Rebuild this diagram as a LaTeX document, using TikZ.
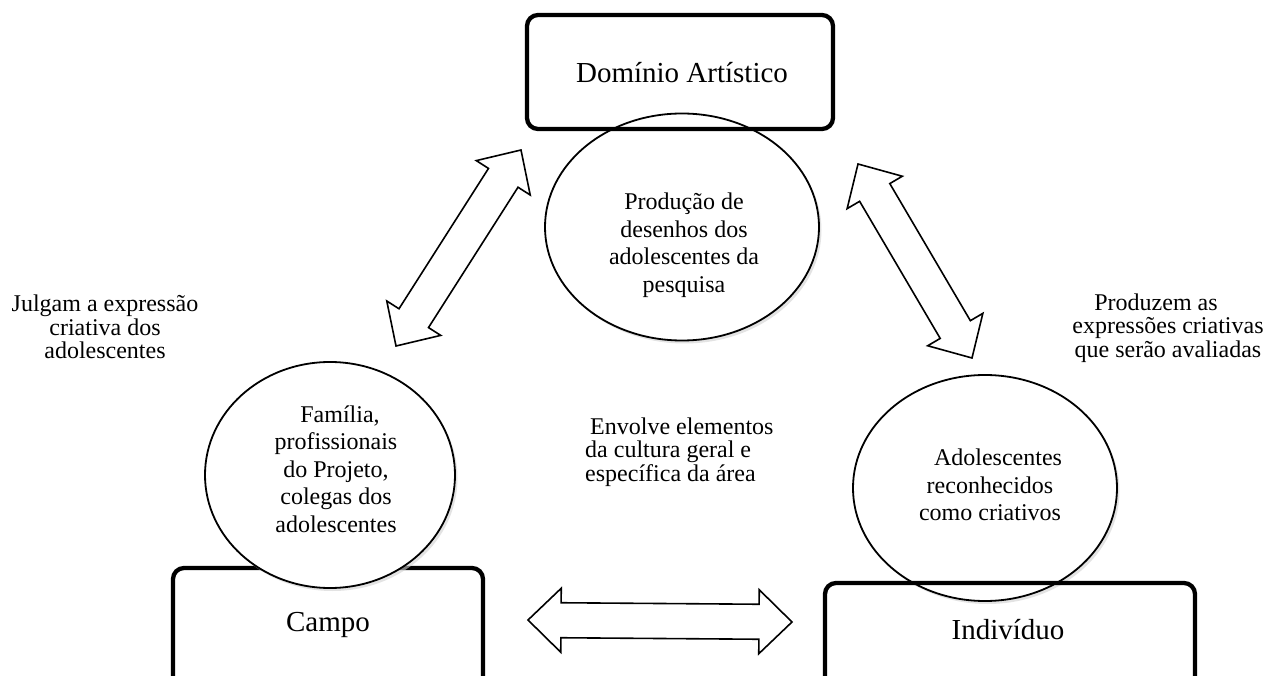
\documentclass[tikz,border=0pt]{standalone}
\usepackage{fontspec}
\setmainfont{Liberation Serif}
\usetikzlibrary{calc,shadows,shapes.geometric}
\tikzset{
  boxst/.style={draw, line width=4.3pt, rounded corners=11pt, minimum width=#1, inner sep=0pt},
  ellst/.style={ellipse, draw, line width=1.8pt, inner sep=0pt},
  ellfill/.style={fill=white, drop shadow={shadow xshift=2.5pt, shadow yshift=-3pt, fill=black!18, opacity=0.6}},
  bigtxt/.style={font=\fontsize{29}{33}\selectfont, inner sep=0pt},
  eltxt/.style={font=\fontsize{24}{27.5}\selectfont, align=center, inner sep=0pt},
  sidetxt/.style={font=\fontsize{24}{23.5}\selectfont, inner sep=0pt},
  arrst/.style={draw, line width=1.6pt, line join=miter, fill=white}
}
\newcommand{\dblarrow}[2]{%
  \coordinate (#1h) at ($(#1)!33pt!(#2)$);
  \coordinate (#2h) at ($(#2)!33pt!(#1)$);
  \path[arrst] (#1) -- ($(#1h)!32pt!90:(#2)$) -- ($(#1h)!17.5pt!90:(#2)$)
    -- ($(#2h)!17.5pt!-90:(#1)$) -- ($(#2h)!32pt!-90:(#1)$) -- (#2)
    -- ($(#2h)!32pt!90:(#1)$) -- ($(#2h)!17.5pt!90:(#1)$)
    -- ($(#1h)!17.5pt!-90:(#2)$) -- ($(#1h)!32pt!-90:(#2)$) -- cycle;}
\begin{document}
\begin{tikzpicture}[x=1pt,y=-1pt]
\useasboundingbox (0,0) rectangle (1270,676);
\clip (0,0) rectangle (1270,676);
\fill[white] (0,0) rectangle (1270,676);

% top: ellipse below box
\node[ellst, ellfill, minimum width=274pt, minimum height=227pt] (eTop) at (682,227) {};
\node[boxst=306pt, minimum height=114pt] (bTop) at (680,72) {};
\node[bigtxt] (tTop) at (682,73) {Domínio Artístico};
\node[eltxt] (teTop) at (684,245) {Produção de\\desenhos dos\\adolescentes da\\pesquisa};

% left: box below ellipse
\node[boxst=310pt, minimum height=132pt] (bLeft) at (328,634) {};
\node[ellst, ellfill, minimum width=250pt, minimum height=226pt] (eLeft) at (330,475) {};
\node[bigtxt] (tLeft) at (328,625) {Campo};
\node[eltxt] (teLeft) at (336,469) {\hspace*{8pt}Família,\\profissionais\\do Projeto,\\colegas dos\\adolescentes};

% right: ellipse below box
\node[ellst, ellfill, minimum width=264pt, minimum height=226pt] (eRight) at (985,488) {};
\node[boxst=370pt, minimum height=117pt] (bRight) at (1010,641.5) {};
\node[bigtxt] (tRight) at (1008,630) {Indivíduo};
\node[eltxt] (teRight) at (990,485) {\hspace*{16pt}Adolescentes\\reconhecidos\\como criativos};

% side texts
\node[sidetxt, align=center] (jul) at (105,327) {Julgam a expressão\\criativa dos\\adolescentes};
\node[sidetxt, align=center] (prod) at (1168,328) {\hspace*{-24pt}Produzem as\\expressões criativas\\que serão avaliadas};
\node[sidetxt, align=left, anchor=west] (env) at (585,452) {\hspace*{5pt}Envolve elementos\\da cultura geral e\\específica da área};

% arrows
\coordinate (la) at (396,346);
\coordinate (lb) at (521,150);
\dblarrow{la}{lb}
\coordinate (ra) at (858,164);
\coordinate (rb) at (972,358);
\dblarrow{ra}{rb}
\coordinate (ha) at (528,620);
\coordinate (hb) at (792,622);
\dblarrow{ha}{hb}
\end{tikzpicture}
\end{document}
